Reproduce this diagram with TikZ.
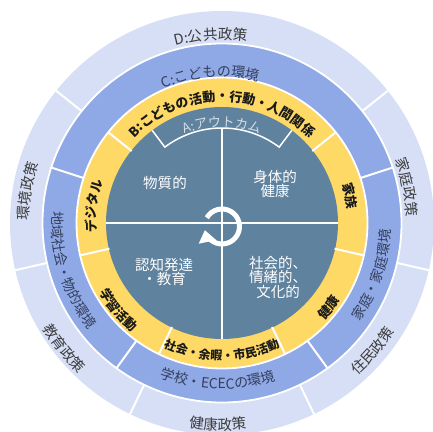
\documentclass[tikz,border=0pt]{standalone}
\usepackage{fontspec}
\setmainfont{Noto Sans CJK JP}
\usetikzlibrary{decorations.text,arrows.meta}
\definecolor{ringD}{HTML}{D6DFF5}
\definecolor{ringC}{HTML}{8FA8E6}
\definecolor{ringB}{HTML}{FFD966}
\definecolor{coreA}{HTML}{5F829E}
\definecolor{txtD}{HTML}{3C3C3C}
\definecolor{txtC}{HTML}{34405C}
\definecolor{txtB}{HTML}{1A1A1A}
\definecolor{txtA}{HTML}{D3DEE8}
\newcommand\fsz[1]{\fontsize{#1}{#1}\selectfont}
\begin{document}
\begin{tikzpicture}[x=1pt,y=1pt,
  sep/.style={white,line width=2pt},
  gapline/.style={white,line width=1.8pt},
  divline/.style={white,line width=1.5pt},
  quad/.style={text=white,font=\fsz{14.5},align=center,inner sep=0pt},
  ringlabel/.style n args={3}{decorate,decoration={text along path,text align=center,text color=#1,text={|#2|#3}}}]
\useasboundingbox (-222,-208) rectangle (211,223);
\fill[white] (-222,-208) rectangle (211,223);
% rings
\fill[ringD] (0,0) circle[radius=212];
\fill[ringC] (0,0) circle[radius=179];
\fill[ringB] (0,0) circle[radius=145];
\fill[coreA] (0,0) circle[radius=116];
\draw[gapline] (0,0) circle[radius=179.5];
\draw[gapline] (0,0) circle[radius=145.5];
\foreach \a in {38.57,141.43,192.86,244.29,295.71,347.14}{
  \draw[sep] (\a:180) -- (\a:213);
  \draw[sep] (\a:115.5) -- (\a:146);
}
\foreach \a in {18,162,234,306}{
  \draw[sep] (\a:146) -- (\a:180);
}
% core dividers
\draw[divline] (-116,0) -- (116,0);
\draw[divline] (0,95) -- (0,-116);
\draw[divline] (127:116) -- (127:95) arc[start angle=127,end angle=53,radius=95] -- (53:116);
% cycle arrow
\coordinate (cyc) at (0,-3.5);
\draw[white,line width=5pt,-{Triangle[width=17pt,length=12pt]}] (cyc) ++(150:17.5) arc[start angle=150,end angle=-168,radius=17.5];
% quadrant texts
\node[quad] (q1) at (-57,40) {物質的};
\node[quad] (q2) at (53,39) {身体的\\健康};
\node[quad] (q3) at (-58,-49) {認知発達\\・教育};
\node[quad] (q4) at (56,-54) {社会的、\\情緒的、\\文化的};
% A label
\path[ringlabel={txtA}{\fsz{13}}{A:アウトカム}] (150:96.5) arc[start angle=150,end angle=30,radius=96.5];
% B labels
\path[ringlabel={txtB}{\fsz{13}\bfseries}{B:こどもの活動・行動・人間関係}] (170:122) arc[start angle=170,end angle=10,radius=122];
\path[ringlabel={txtB}{\fsz{13}\bfseries}{デジタル}] (212.5:126) arc[start angle=212.5,end angle=132.5,radius=126];
\path[ringlabel={txtB}{\fsz{13}\bfseries}{家族}] (52:126) arc[start angle=52,end angle=-28,radius=126];
\path[ringlabel={txtB}{\fsz{13}\bfseries}{学習活動}] (180:141) arc[start angle=180,end angle=260,radius=141];
\path[ringlabel={txtB}{\fsz{13}\bfseries}{健康}] (281.7:141) arc[start angle=281.7,end angle=361.7,radius=141];
\path[ringlabel={txtB}{\fsz{12}\bfseries}{社会・余暇・市民活動}] (220:137) arc[start angle=220,end angle=320,radius=137];
% C labels
\path[ringlabel={txtC}{\fsz{14}}{C:こどもの環境}] (144.5:146.5) arc[start angle=144.5,end angle=44.5,radius=146.5];
\path[ringlabel={txtC}{\fsz{14}}{地域社会・物的環境}] (157.5:170) arc[start angle=157.5,end angle=237.5,radius=170];
\path[ringlabel={txtC}{\fsz{14}}{学校・ECECの環境}] (218.5:166) arc[start angle=218.5,end angle=318.5,radius=166];
\path[ringlabel={txtC}{\fsz{14}}{家庭・家庭環境}] (-64:169) arc[start angle=-64,end angle=26,radius=169];
% D labels
\path[ringlabel={txtD}{\fsz{14.5}}{D:公共政策}] (133.5:183.5) arc[start angle=133.5,end angle=53.5,radius=183.5];
\path[ringlabel={txtD}{\fsz{14.5}}{環境政策}] (205.7:193) arc[start angle=205.7,end angle=135.7,radius=193];
\path[ringlabel={txtD}{\fsz{14.5}}{家庭政策}] (46:184.5) arc[start angle=46,end angle=-24,radius=184.5];
\path[ringlabel={txtD}{\fsz{14.5}}{教育政策}] (183.5:208) arc[start angle=183.5,end angle=253.5,radius=208];
\path[ringlabel={txtD}{\fsz{14.5}}{健康政策}] (233.8:207) arc[start angle=233.8,end angle=303.8,radius=207];
\path[ringlabel={txtD}{\fsz{14.5}}{住民政策}] (284.7:204) arc[start angle=284.7,end angle=354.7,radius=204];
\end{tikzpicture}
\end{document}
